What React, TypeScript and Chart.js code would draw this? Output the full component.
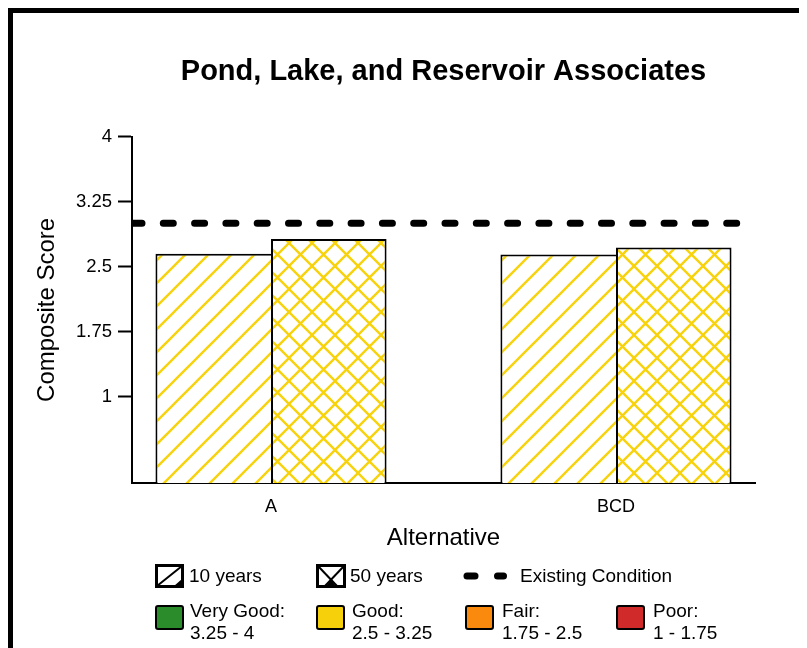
import React, { useEffect, useRef } from 'react';
import { Chart, registerables } from 'chart.js';

Chart.register(...registerables);

// ---------- data ----------
const chartTitle = 'Pond, Lake, and Reservoir Associates';
const categories = ['A', 'BCD'];
const tenYears = [2.65, 2.64];
const fiftyYears = [2.82, 2.72];
const existingCondition = 3.0;
const yTicks = [1, 1.75, 2.5, 3.25, 4];
const seriesLabels = ['10 years', '50 years', 'Existing Condition'];
const ratingNames = ['Very Good:', 'Good:', 'Fair:', 'Poor:'];
const ratingRanges = ['3.25 - 4', '2.5 - 3.25', '1.75 - 2.5', '1 - 1.75'];
const ratingColors = ['#2a8c2a', '#f7d00c', '#f98a0e', '#d02a2a'];

// ---------- styles ----------
const FONT = '"Liberation Sans", Arial, Helvetica, sans-serif';
const YELLOW = '#f8d20c';
const X_MIN = -0.403;
const X_MAX = 1.403;
const OX = 13; // page offset of container content
const OY = 13;

function makePattern(cross: boolean): CanvasPattern | string {
  const s = 23;
  const c = document.createElement('canvas');
  c.width = s;
  c.height = s;
  const g = c.getContext('2d');
  if (!g) return '#fff';
  g.fillStyle = '#ffffff';
  g.fillRect(0, 0, s, s);
  g.strokeStyle = YELLOW;
  g.lineWidth = 2.4;
  const line = (x1: number, y1: number, x2: number, y2: number) => {
    g.beginPath();
    g.moveTo(x1, y1);
    g.lineTo(x2, y2);
    g.stroke();
  };
  line(-3, s + 3, s + 3, -3);
  line(-3, 3, 3, -3);
  line(s - 3, s + 3, s + 3, s - 3);
  if (cross) {
    line(-3, -3, s + 3, s + 3);
    line(-3, s - 3, 3, s + 3);
    line(s - 3, -3, s + 3, 3);
  }
  return g.createPattern(c, 'repeat') || '#fff';
}

const textStyle: React.CSSProperties = {
  position: 'absolute',
  fontFamily: FONT,
  fontSize: 19,
  lineHeight: '22px',
  color: '#000',
  whiteSpace: 'nowrap',
};

export default function App() {
  const ref = useRef<HTMLCanvasElement>(null);

  useEffect(() => {
    const canvas = ref.current;
    if (!canvas) return;
    const pat10 = makePattern(false);
    const pat50 = makePattern(true);
    const chart = new Chart(canvas, {
      type: 'bar',
      data: {
        datasets: [
          {
            type: 'line',
            label: seriesLabels[2],
            data: [
              { x: X_MIN, y: existingCondition },
              { x: X_MAX, y: existingCondition },
            ],
            borderColor: '#000',
            borderWidth: 7,
            borderDash: [10, 21.3],
            borderCapStyle: 'round',
            pointRadius: 0,
            order: 0,
          } as any,
          {
            type: 'bar',
            label: seriesLabels[0],
            data: categories.map((_, i) => ({ x: i, y: tenYears[i] })),
            backgroundColor: pat10 as any,
            borderColor: '#000',
            borderWidth: { left: 2, top: 2, right: 0, bottom: 0 },
            borderSkipped: false,
            barPercentage: 1,
            categoryPercentage: 0.67,
            order: 2,
          },
          {
            type: 'bar',
            label: seriesLabels[1],
            data: categories.map((_, i) => ({ x: i, y: fiftyYears[i] })),
            backgroundColor: pat50 as any,
            borderColor: '#000',
            borderWidth: { left: 2, top: 2, right: 2, bottom: 0 },
            borderSkipped: false,
            barPercentage: 1,
            categoryPercentage: 0.67,
            order: 2,
          },
        ],
      },
      options: {
        responsive: false,
        animation: false,
        devicePixelRatio: 1,
        layout: { padding: { left: 0, right: 52, top: 0, bottom: 85 } },
        plugins: {
          legend: { display: false },
          tooltip: { enabled: false },
          title: {
            display: true,
            text: chartTitle,
            fullSize: false,
            color: '#000',
            font: { family: FONT, size: 29, weight: 'bold', lineHeight: 1.2 },
            padding: { top: 42, bottom: 47 },
          },
        },
        scales: {
          x: {
            type: 'linear',
            min: X_MIN,
            max: X_MAX,
            offset: false,
            afterBuildTicks: (s: any) => {
              s.ticks = categories.map((_, i) => ({ value: i }));
            },
            afterFit: (s: any) => {
              s.height = 80;
            },
            ticks: {
              autoSkip: false,
              maxRotation: 0,
              color: '#000',
              font: { family: FONT, size: 18 },
              padding: 13,
              callback: (v: any) => categories[Math.round(Number(v))] ?? '',
            },
            grid: { display: true, drawOnChartArea: false, drawTicks: false, offset: false },
            border: { display: true, color: '#000', width: 2 },
            title: {
              display: true,
              text: 'Alternative',
              color: '#000',
              font: { family: FONT, size: 24 },
              padding: { top: 0, bottom: 10 },
            },
          },
          y: {
            type: 'linear',
            min: 0,
            max: 4,
            afterBuildTicks: (s: any) => {
              s.ticks = yTicks.map((v) => ({ value: v }));
            },
            afterFit: (s: any) => {
              s.width = 119;
            },
            ticks: {
              autoSkip: false,
              color: '#000',
              font: { family: FONT, size: 18.5 },
              padding: 6,
              callback: (v: any) => String(v),
            },
            grid: { drawOnChartArea: false, drawTicks: true, tickLength: 14, tickWidth: 2, color: '#000' },
            border: { display: true, color: '#000', width: 2 },
            title: {
              display: true,
              text: 'Composite Score',
              color: '#000',
              font: { family: FONT, size: 24 },
              padding: { top: 20, bottom: 0 },
            },
          },
        },
      } as any,
    });
    return () => chart.destroy();
  }, []);

  const boxL = [155, 316, 465, 616];
  const textL = [190, 352, 502, 653];

  return (
    <div style={{ width: 799, height: 640, overflow: 'hidden' }}>
      <div
        style={{
          position: 'relative',
          width: 840,
          height: 700,
          border: '5px solid #000',
          background: '#fff',
        }}
      >
        <canvas
          ref={ref}
          width={794}
          height={635}
          style={{ position: 'absolute', left: 0, top: 0, width: 794, height: 635 }}
        />
        {/* legend row 1 */}
        <svg
          width={29}
          height={24}
          style={{ position: 'absolute', left: 155 - OX, top: 564 - OY }}
        >
          <rect x={1.5} y={1.5} width={26} height={21} fill="#fff" stroke="#000" strokeWidth={3} />
          <line x1={2} y1={22} x2={27} y2={2} stroke="#000" strokeWidth={2} />
          <polygon points="19,22 27,22 27,15" fill="#000" />
        </svg>
        <div style={{ ...textStyle, left: 189 - OX, top: 565 - OY }}>{seriesLabels[0]}</div>
        <svg
          width={30}
          height={24}
          style={{ position: 'absolute', left: 316 - OX, top: 564 - OY }}
        >
          <rect x={1.5} y={1.5} width={27} height={21} fill="#fff" stroke="#000" strokeWidth={3} />
          <line x1={2} y1={2} x2={21} y2={22} stroke="#000" strokeWidth={2} />
          <line x1={28} y1={2} x2={9} y2={22} stroke="#000" strokeWidth={2} />
          <polygon points="10,22 20,22 15,16" fill="#000" />
        </svg>
        <div style={{ ...textStyle, left: 350 - OX, top: 565 - OY }}>{seriesLabels[1]}</div>
        <svg
          width={46}
          height={24}
          style={{ position: 'absolute', left: 463 - OX, top: 564 - OY }}
        >
          <line x1={4} y1={12} x2={12} y2={12} stroke="#000" strokeWidth={7} strokeLinecap="round" />
          <line x1={34.5} y1={12} x2={40.5} y2={12} stroke="#000" strokeWidth={7} strokeLinecap="round" />
        </svg>
        <div style={{ ...textStyle, left: 520 - OX, top: 565 - OY }}>{seriesLabels[2]}</div>
        {/* legend row 2 */}
        {ratingNames.map((name, i) => (
          <React.Fragment key={name}>
            <div
              style={{
                position: 'absolute',
                left: boxL[i] - OX,
                top: 605 - OY,
                width: 25,
                height: 21,
                background: ratingColors[i],
                border: '2px solid #000',
                borderRadius: 3,
              }}
            />
            <div style={{ ...textStyle, left: textL[i] - OX, top: 600 - OY }}>{name}</div>
            <div style={{ ...textStyle, left: textL[i] - OX, top: 622 - OY }}>{ratingRanges[i]}</div>
          </React.Fragment>
        ))}
      </div>
    </div>
  );
}
